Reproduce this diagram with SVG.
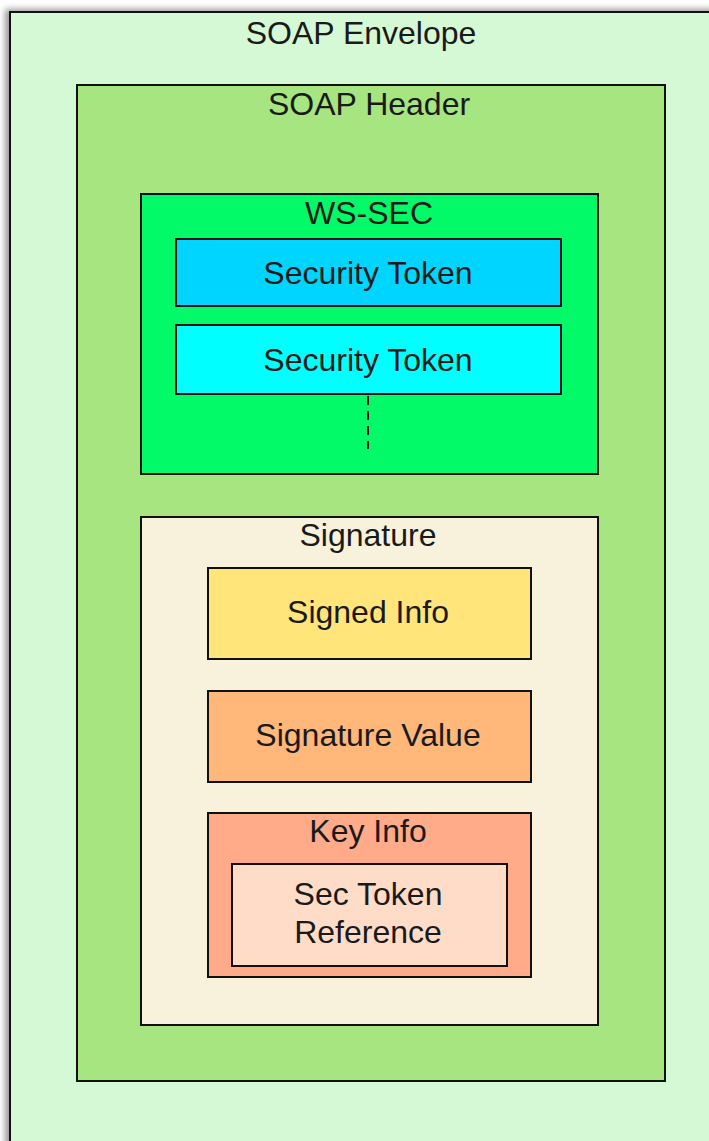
<svg xmlns="http://www.w3.org/2000/svg" width="709" height="1141" viewBox="0 0 709 1141">
<style>
.box{stroke:#111;stroke-width:2}
.t{font-family:"Liberation Sans",Arial,sans-serif;font-size:32px;fill:#1a1a1a;text-anchor:middle}
.conn{stroke:#111;stroke-width:2;stroke-dasharray:9,6;fill:none}
</style>
<defs>
<filter id="sh" x="-10%" y="-10%" width="120%" height="120%"><feGaussianBlur stdDeviation="3"/></filter>
</defs>
<rect x="0" y="0" width="709" height="1141" fill="#ffffff"/>
<g id="envelope">
<rect x="5" y="9" width="720" height="1150" fill="#999" filter="url(#sh)"/>
<rect class="box" x="10" y="12" width="710" height="1140" fill="#d5f8d5"/>
<text class="t" x="361" y="44">SOAP Envelope</text>
</g>
<g id="header">
<rect class="box" x="77" y="85" width="588" height="996" fill="#a6e580"/>
<text class="t" x="369" y="115">SOAP Header</text>
</g>
<g id="wssec">
<rect class="box" x="141" y="194" width="457" height="280" fill="#02fa68"/>
<text class="t" x="369" y="224">WS-SEC</text>
</g>
<g id="token1">
<rect class="box" x="176" y="239" width="385" height="67" fill="#00d5ff"/>
<text class="t" x="368" y="284">Security Token</text>
</g>
<g id="token2">
<rect class="box" x="176" y="325" width="385" height="69" fill="#00ffff"/>
<text class="t" x="368" y="371">Security Token</text>
</g>
<g id="connectors">
<line class="conn" x1="368" y1="396" x2="368" y2="449"/>
</g>
<g id="signature">
<rect class="box" x="141" y="517" width="457" height="508" fill="#f8f2dc"/>
<text class="t" x="368" y="546">Signature</text>
</g>
<g id="signedinfo">
<rect class="box" x="208" y="568" width="323" height="91" fill="#ffe57a"/>
<text class="t" x="368" y="623">Signed Info</text>
</g>
<g id="sigvalue">
<rect class="box" x="208" y="691" width="323" height="91" fill="#ffb77a"/>
<text class="t" x="368" y="746">Signature Value</text>
</g>
<g id="keyinfo">
<rect class="box" x="208" y="813" width="323" height="164" fill="#ffaa88"/>
<text class="t" x="368" y="842">Key Info</text>
</g>
<g id="secref">
<rect class="box" x="232" y="864" width="275" height="102" fill="#ffdcc8"/>
<text class="t" x="368" y="905">Sec Token</text>
<text class="t" x="368" y="943">Reference</text>
</g>
</svg>
